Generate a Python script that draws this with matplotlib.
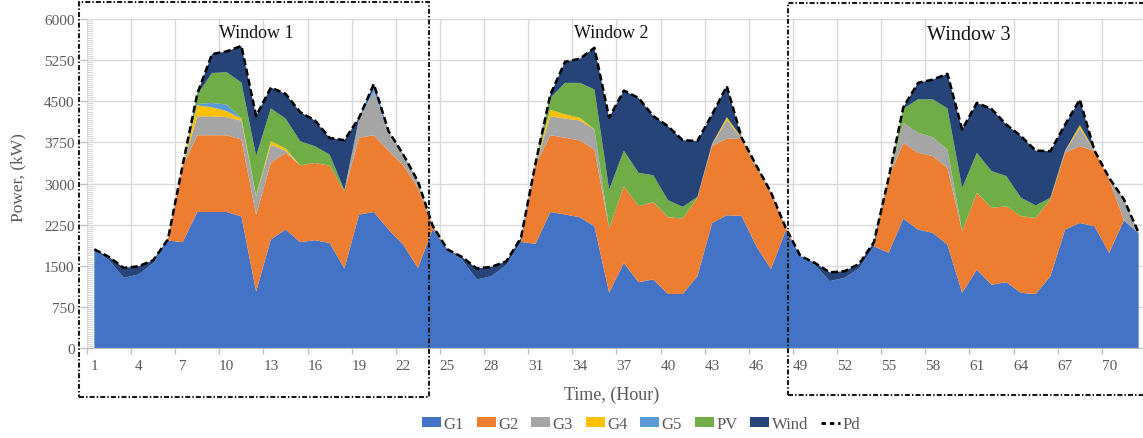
import matplotlib
matplotlib.use('Agg')
import matplotlib.pyplot as plt
from matplotlib.patches import Rectangle, Patch
from matplotlib.lines import Line2D
from matplotlib.ticker import MultipleLocator
import numpy as np

hours = list(range(1, 73))

G1 = [1790, 1600, 1280, 1340, 1550, 1960, 1930, 2480, 2480, 2480, 2400, 1030,
      1980, 2160, 1930, 1965, 1915, 1450, 2435, 2480, 2160, 1885, 1460, 2170,
      1800, 1610, 1250, 1310, 1510, 1935, 1900, 2480, 2435, 2385, 2220, 1010,
      1550, 1200, 1250, 985, 985, 1310, 2280, 2420, 2410, 1860, 1440, 2140,
      1680, 1510, 1220, 1280, 1450, 1855, 1735, 2360, 2160, 2100, 1885, 1005,
      1430, 1155, 1200, 1005, 985, 1310, 2160, 2280, 2220, 1735, 2330, 2090]
G2 = [0, 0, 0, 0, 0, 0, 1385, 1400, 1400, 1400, 1400, 1400,
      1400, 1400, 1400, 1410, 1410, 1410, 1400, 1400, 1440, 1450, 1460, 50,
      0, 0, 0, 0, 0, 0, 1445, 1400, 1400, 1400, 1400, 1170,
      1400, 1385, 1410, 1400, 1375, 1430, 1400, 1400, 1400, 1430, 1380, 50,
      0, 0, 0, 0, 0, 0, 1365, 1380, 1400, 1400, 1400, 1125,
      1400, 1400, 1385, 1400, 1385, 1400, 1400, 1400, 1370, 1335, 0, 0]
G3 = [0, 0, 0, 0, 0, 0, 0, 345, 345, 330, 345, 335,
      330, 40, 0, 0, 0, 0, 350, 780, 340, 165, 110, 0,
      0, 0, 0, 0, 0, 0, 0, 345, 350, 365, 365, 0,
      0, 0, 0, 0, 0, 0, 30, 345, 10, 0, 0, 0,
      0, 0, 0, 0, 0, 0, 0, 365, 365, 345, 335, 0,
      0, 0, 0, 0, 0, 0, 30, 335, 0, 30, 370, 0]
G4 = [0, 0, 0, 0, 0, 0, 10, 200, 165, 110, 40, 10,
      60, 40, 0, 0, 0, 0, 0, 0, 0, 0, 0, 0,
      0, 0, 0, 0, 0, 0, 0, 120, 75, 50, 5, 0,
      0, 0, 0, 0, 0, 0, 15, 45, 20, 10, 0, 0,
      0, 0, 0, 0, 0, 0, 0, 0, 0, 0, 0, 0,
      0, 0, 0, 0, 0, 0, 10, 50, 10, 0, 0, 0]
G5 = [0, 0, 0, 0, 0, 0, 0, 25, 80, 120, 5, 0,
      0, 0, 0, 0, 0, 0, 0, 70, 15, 15, 10, 0,
      0, 0, 0, 0, 0, 0, 0, 0, 0, 0, 0, 0,
      0, 0, 0, 0, 0, 0, 0, 0, 0, 15, 10, 0,
      0, 0, 0, 0, 0, 0, 0, 0, 0, 0, 0, 0,
      0, 0, 0, 0, 0, 0, 0, 0, 0, 0, 0, 0]
PV = [0, 0, 0, 0, 0, 0, 0, 170, 545, 590, 650, 725,
      600, 545, 440, 305, 200, 20, 0, 0, 0, 0, 0, 0,
      0, 0, 0, 0, 0, 0, 0, 215, 575, 635, 725, 710,
      650, 610, 490, 310, 215, 15, 0, 0, 0, 0, 0, 0,
      0, 0, 0, 0, 0, 0, 0, 260, 610, 690, 750, 790,
      730, 670, 550, 335, 230, 30, 0, 0, 0, 0, 0, 0]
Wind = [10, 60, 180, 150, 50, 20, 5, 20, 345, 380, 670, 730,
        380, 450, 530, 470, 305, 910, 15, 85, 0, 15, 0, 10,
        0, 50, 200, 170, 70, 70, 30, 60, 385, 440, 760, 1310,
        1095, 1365, 1080, 1350, 1215, 1020, 535, 565, 0, 15, 10, 5,
        0, 40, 160, 120, 85, 75, 0, 25, 300, 360, 630, 1065,
        910, 1135, 940, 1125, 1000, 850, 475, 465, 0, 0, 10, 10]
Pd = [1800, 1660, 1460, 1490, 1600, 1980, 3330, 4640, 5360, 5410, 5510, 4230,
      4750, 4635, 4300, 4150, 3830, 3790, 4200, 4815, 3955, 3530, 3040, 2230,
      1800, 1660, 1450, 1480, 1580, 2005, 3375, 4620, 5220, 5275, 5475, 4200,
      4695, 4560, 4230, 4045, 3790, 3775, 4260, 4775, 3840, 3330, 2840, 2195,
      1680, 1550, 1380, 1400, 1535, 1930, 3100, 4390, 4835, 4895, 5000, 3985,
      4470, 4360, 4075, 3865, 3600, 3590, 4075, 4530, 3600, 3100, 2710, 2100]

series_names = ['G1', 'G2', 'G3', 'G4', 'G5', 'PV', 'Wind']
colors = ['#4472C4', '#ED7D31', '#A5A5A5', '#FFC000', '#5B9BD5', '#70AD47', '#264478']
ytick_vals = [0, 750, 1500, 2250, 3000, 3750, 4500, 5250, 6000]
xlabel_hours = list(range(1, 73, 3))
window_titles = ['Window 1', 'Window 2', 'Window 3']

plt.rcParams['font.family'] = ['Liberation Serif', 'DejaVu Serif']

W, H = 1143, 439
fig = plt.figure(figsize=(W / 100, H / 100), dpi=100)
ax = fig.add_axes([87 / W, (H - 349) / H, (1146 - 87) / W, 329 / H])

ax.stackplot(hours, G1, G2, G3, G4, G5, PV, Wind, colors=colors,
             linewidth=0, zorder=2)
ax.plot(hours, Pd, color='black', lw=1.8, ls=(0, (2.8, 1.4)), zorder=3)

ax.set_xlim(0.5, 72.5)
ax.set_ylim(0, 6000)
ax.set_yticks(ytick_vals)
ax.set_yticklabels([str(v) for v in ytick_vals])
ax.yaxis.set_minor_locator(MultipleLocator(37.5))
ax.set_xticks(np.arange(0.5, 73, 3))
ax.set_xticklabels([])
ax.set_xticks(xlabel_hours, minor=True)
ax.set_xticklabels([str(h) for h in xlabel_hours], minor=True)

ax.tick_params(axis='x', which='major', length=4, width=1, color='#bfbfbf')
ax.tick_params(axis='x', which='minor', length=0, pad=8, labelsize=11,
               labelcolor='#595959')
ax.tick_params(axis='y', which='major', length=5, width=1, color='#bfbfbf',
               pad=4, labelsize=11, labelcolor='#595959')
ax.tick_params(axis='y', which='minor', direction='in', length=4, width=0.6,
               color='#d0d0d0')

ax.grid(True, which='major', color='#d9d9d9', lw=1)
ax.set_axisbelow(True)
for s in ['top', 'right', 'left']:
    ax.spines[s].set_visible(False)
ax.spines['bottom'].set_color('#bfbfbf')

fig.text(18 / W, 1 - 178 / H, 'Power, (kW)', rotation=90, ha='center',
         va='center', fontsize=12.5, color='#595959')
fig.text(612 / W, 1 - 395 / H, 'Time, (Hour)', ha='center', va='center',
         fontsize=13, color='#595959')

fig.text(256 / W, 1 - 34 / H, window_titles[0], ha='center', va='center',
         fontsize=13, color='#111111')
fig.text(611 / W, 1 - 34 / H, window_titles[1], ha='center', va='center',
         fontsize=13, color='#111111')
fig.text(969 / W, 1 - 36 / H, window_titles[2], ha='center', va='center',
         fontsize=14.5, color='#111111')

dd = (0, (2.4, 1.0, 0.7, 1.0))
r1 = Rectangle((79 / W, 1 - 398 / H), (429 - 79) / W, (398 - 2.5) / H,
               fill=False, ls=dd, lw=1.5, edgecolor='#1a1a1a',
               transform=fig.transFigure, zorder=5)
r3 = Rectangle((788 / W, 1 - 396 / H), (1148 - 788) / W, (396 - 3.5) / H,
               fill=False, ls=dd, lw=1.5, edgecolor='#1a1a1a',
               transform=fig.transFigure, zorder=5)
fig.add_artist(r1)
fig.add_artist(r3)

handles = [Patch(facecolor=c, edgecolor='none') for c in colors]
handles.append(Line2D([0], [0], color='black', lw=2, ls=(0, (1.6, 1.4))))
labels = series_names + ['Pd']
fig.legend(handles, labels, ncol=8, loc='center',
           bbox_to_anchor=(641 / W, 1 - 425 / H), frameon=False, fontsize=12,
           handlelength=1.15, handleheight=0.55, handletextpad=0.15,
           columnspacing=0.75, labelcolor='#595959')

fig.savefig('out.png', dpi=100)
